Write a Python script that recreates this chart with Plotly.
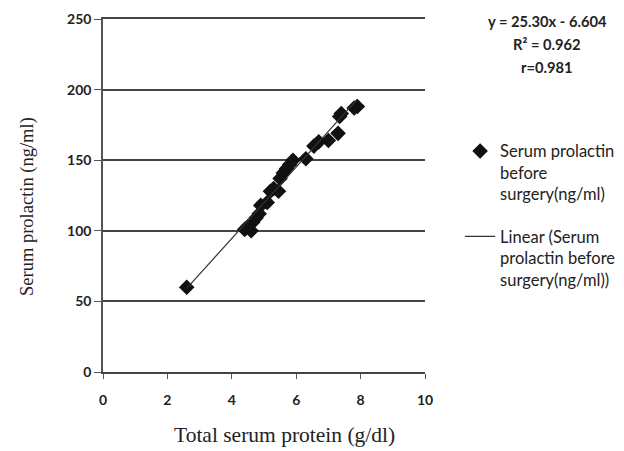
import plotly.graph_objects as go
import numpy as np

protein = [2.6, 4.4, 4.5, 4.6, 4.65, 4.75, 4.85, 4.9, 5.1, 5.2, 5.3, 5.45, 5.5, 5.6,
           5.7, 5.8, 5.9, 6.3, 6.55, 6.7, 7.0, 7.3, 7.35, 7.4, 7.8, 7.9]
prolactin = [60, 101, 103, 100, 106, 109, 112, 118, 120, 128, 130, 128, 137, 141,
             144, 147, 150, 151, 160, 163, 164, 169, 181, 183, 187, 188]
slope = 25.30
intercept = -6.604
x_ticks = [0, 2, 4, 6, 8, 10]
y_ticks = [0, 50, 100, 150, 200, 250]
equation_lines = ["y = 25.30x - 6.604", "R² = 0.962", "r=0.981"]

x_line = np.array([min(protein), max(protein)])
y_line = slope * x_line + intercept

tick_font = dict(family="Lato", size=14, color="#222", weight=700)

fig = go.Figure()
fig.add_trace(go.Scatter(
    x=protein, y=prolactin, mode="markers",
    marker=dict(symbol="diamond", size=12, color="#111"),
    legendgroup="a",
    name="Serum prolactin<br>before<br>surgery(ng/ml)"))
fig.add_trace(go.Scatter(
    x=x_line, y=y_line, mode="lines",
    line=dict(color="#333", width=1.2),
    legendgroup="b",
    name="Linear (Serum<br>prolactin before<br>surgery(ng/ml))"))

H = 353.0
annotations = []
for i, line in enumerate(equation_lines):
    annotations.append(dict(
        x=(547 - 103) / 322.0, y=(372 - (21 + 23 * i)) / H, xref="paper", yref="paper",
        xanchor="center", yanchor="middle", text=line, showarrow=False,
        font=dict(family="Lato", size=14.7, color="#222", weight=700)))
annotations.append(dict(
    x=(284 - 103) / 322.0, y=(372 - 435) / H, xref="paper", yref="paper",
    xanchor="center", yanchor="middle", text="Total serum protein (g/dl)", showarrow=False,
    font=dict(family="Liberation Serif", size=21.5, color="#222")))
annotations.append(dict(
    x=(27 - 103) / 322.0, y=(372 - 207) / H, xref="paper", yref="paper",
    xanchor="center", yanchor="middle", text="Serum prolactin (ng/ml)", showarrow=False,
    textangle=-90,
    font=dict(family="Liberation Serif", size=18.5, color="#222")))

fig.update_layout(
    width=624, height=451,
    margin=dict(l=103, r=199, t=19, b=79, autoexpand=False),
    paper_bgcolor="white", plot_bgcolor="white",
    showlegend=True,
    legend=dict(x=1.109, y=0.675, xanchor="left", yanchor="top", valign="top",
                font=dict(family="Lato", size=16.5, color="#222"),
                tracegroupgap=18, itemwidth=30, bgcolor="rgba(0,0,0,0)"),
    xaxis=dict(range=[0, 10], tickvals=x_ticks, showgrid=False, zeroline=False,
               showline=True, linecolor="#444", linewidth=1.5, mirror=True,
               ticks="outside", ticklen=5, tickcolor="#555", ticklabelstandoff=9,
               tickfont=tick_font, fixedrange=True),
    yaxis=dict(range=[0, 250], tickvals=y_ticks, showgrid=True, gridcolor="#444",
               gridwidth=1.5, zeroline=False, showline=True, linecolor="#555",
               linewidth=1.5, ticks="outside", ticklen=7, tickcolor="#555",
               tickfont=tick_font, fixedrange=True),
    annotations=annotations,
)

fig.write_html("out.html")
